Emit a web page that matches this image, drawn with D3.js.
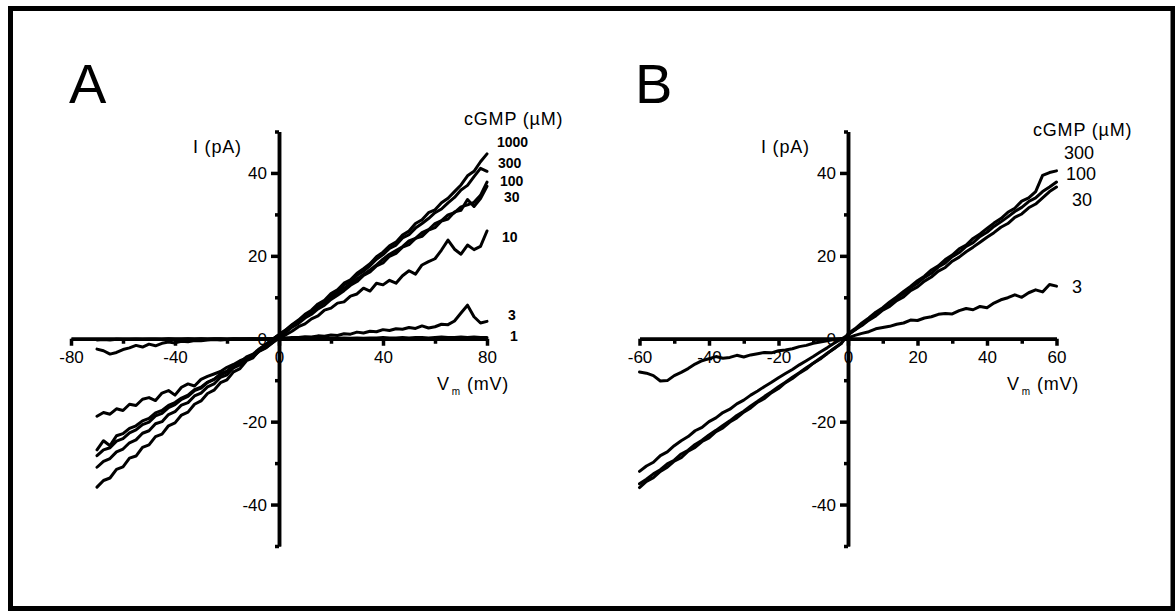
<!DOCTYPE html>
<html>
<head>
<meta charset="utf-8">
<script src="https://cdn.jsdelivr.net/npm/d3@7"></script>
<style>
  body { margin: 0; background: #fff; }
  text { font-family: "Liberation Sans", Arial, sans-serif; fill: #000; }
  .trace { fill: none; stroke: #000; stroke-width: 3; stroke-linejoin: round; stroke-linecap: round; }
  .axis path, .axis line { stroke: #000; stroke-width: 3.5; }
  .axis text { font-size: 17px; font-family: "Liberation Sans", Arial, sans-serif; }
  .lab { font-size: 18px; letter-spacing: 0.8px; }
  .conc { font-size: 14px; font-weight: bold; }
  .concB { font-size: 18px; }
</style>
</head>
<body>
<div id="chart"></div>
<script>
var width = 1175;
var height = 611;

// Panel A: voltage ramp from -70 to +80 mV, one sample every 2.5 mV
var vStartA = -70, vStepA = 2.5;
var concA = ["1000", "300", "100", "30", "10", "3", "1"];
var iA_1000 = [
  -35.8, -34.2, -33.6, -31.5, -30.9, -28.8, -28.3, -26.2, -25.6, -23.6,
  -23.0, -21.0, -20.3, -18.4, -17.7, -15.8, -15.0, -13.2, -12.4, -10.6,
  -9.9, -8.0, -7.2, -5.3, -4.6, -2.7, -1.8, -0.2, 1.0, 2.1,
  3.4, 4.5, 5.9, 6.9, 8.4, 9.3, 10.9, 11.8, 13.4, 14.2,
  15.8, 16.9, 18.1, 19.8, 20.9, 22.4, 23.3, 25.0, 26.0, 27.8,
  28.7, 30.4, 31.1, 32.8, 33.9, 35.5, 37.1, 39.3, 40.4, 42.7,
  44.6];
var iA_300 = [
  -31.0, -29.6, -28.9, -27.3, -26.6, -25.1, -24.4, -22.8, -22.2, -20.5,
  -20.0, -18.3, -17.6, -16.0, -15.4, -13.8, -13.1, -11.6, -10.9, -9.3,
  -8.7, -7.0, -6.3, -4.8, -4.1, -2.5, -1.4, -0.1, 1.0, 2.0,
  3.3, 4.3, 5.7, 6.6, 8.1, 9.0, 10.5, 11.4, 13.0, 13.8,
  15.3, 16.3, 17.6, 19.2, 20.3, 21.8, 22.6, 24.3, 25.1, 26.7,
  27.8, 29.0, 30.4, 31.3, 32.8, 34.1, 35.9, 37.0, 39.1, 41.1,
  40.4];
var iA_100 = [
  -28.2, -26.8, -26.3, -24.7, -24.1, -22.7, -22.0, -20.7, -20.1, -18.6,
  -18.0, -16.6, -15.9, -14.6, -13.9, -12.5, -11.9, -10.5, -9.8, -8.5,
  -7.8, -6.4, -5.7, -4.4, -3.7, -2.4, -1.3, -0.2, 0.9, 1.9,
  3.1, 4.1, 5.4, 6.4, 7.7, 8.7, 10.0, 10.9, 12.2, 13.2,
  14.4, 15.5, 16.6, 17.8, 19.2, 20.4, 21.3, 22.2, 23.6, 24.2,
  25.6, 26.3, 27.8, 28.5, 29.9, 30.4, 31.8, 32.3, 32.9, 34.6,
  37.8];
var iA_30 = [
  -26.8, -24.6, -25.8, -23.4, -22.9, -21.6, -21.0, -19.8, -19.2, -17.9,
  -17.3, -16.1, -15.4, -14.3, -13.6, -12.3, -11.7, -10.5, -9.8, -8.7,
  -8.0, -6.8, -6.2, -4.9, -4.3, -3.0, -2.2, -0.9, 0.6, 1.5,
  2.8, 3.7, 5.0, 5.9, 7.2, 8.1, 9.5, 10.5, 11.6, 12.9,
  13.8, 15.3, 16.1, 17.6, 18.3, 19.9, 20.6, 22.1, 22.7, 24.2,
  24.7, 26.2, 26.8, 28.4, 28.9, 30.6, 31.0, 33.6, 31.9, 33.8,
  36.8];
var iA_10 = [
  -18.7, -17.8, -18.2, -16.9, -17.3, -15.8, -16.1, -14.6, -14.2, -14.9,
  -13.1, -12.5, -13.6, -11.7, -10.9, -11.4, -9.8, -9.1, -8.5, -7.9,
  -6.9, -6.2, -5.3, -4.7, -3.9, -2.9, -2.1, -1.0, 0.1, 0.9,
  1.8, 2.9, 3.6, 4.8, 5.5, 6.9, 7.4, 8.6, 8.9, 10.3,
  10.8, 12.2, 11.5, 13.4, 13.0, 14.1, 13.4, 15.2, 16.4, 15.6,
  17.8, 18.6, 19.3, 21.4, 23.8, 21.6, 20.4, 22.6, 21.5, 22.3,
  26.0];
var iA_3 = [
  -2.5, -2.9, -3.7, -3.3, -2.6, -2.2, -1.6, -2.0, -1.3, -1.7,
  -1.1, -0.8, -1.0, -0.6, -0.7, -0.4, -0.5, -0.3, -0.2, -0.3,
  -0.2, -0.1, -0.2, -0.1, 0.0, -0.1, 0.0, 0.0, 0.1, 0.2,
  0.3, 0.3, 0.5, 0.4, 0.7, 0.6, 0.9, 0.8, 1.2, 1.1,
  1.6, 1.4, 1.8, 1.7, 2.2, 2.0, 2.4, 2.3, 2.7, 2.5,
  3.1, 2.6, 2.9, 3.5, 3.4, 4.3, 6.2, 8.1, 5.3, 3.8,
  4.2];
var iA_1 = [
  -0.3, -0.2, -0.3, -0.1, -0.2, -0.2, -0.1, -0.2, -0.1, -0.1,
  -0.2, 0.0, -0.1, -0.1, 0.0, -0.1, 0.0, -0.1, 0.0, 0.0,
  -0.1, 0.0, 0.0, 0.0, 0.0, 0.0, 0.0, 0.0, 0.0, 0.1,
  0.0, 0.1, 0.1, 0.0, 0.1, 0.2, 0.1, 0.1, 0.2, 0.1,
  0.2, 0.1, 0.2, 0.2, 0.3, 0.2, 0.2, 0.3, 0.2, 0.3,
  0.3, 0.2, 0.3, 0.4, 0.3, 0.3, 0.4, 0.3, 0.4, 0.3,
  0.3];

// Panel B: voltage ramp from -60 to +60 mV, one sample every 2 mV
var vStartB = -60, vStepB = 2;
var concB = ["300", "100", "30", "3"];
var iB_300 = [
  -35.9, -34.4, -33.5, -32.0, -31.0, -29.5, -28.7, -27.1, -26.2, -24.8,
  -23.9, -22.4, -21.5, -20.1, -19.1, -17.7, -16.7, -15.3, -14.4, -13.0,
  -12.0, -10.6, -9.6, -8.3, -7.3, -5.9, -4.9, -3.5, -2.4, -1.1,
  1.2, 2.4, 3.8, 5.0, 6.4, 7.5, 8.9, 10.1, 11.4, 12.6,
  14.0, 15.1, 16.6, 17.6, 19.1, 20.2, 21.7, 22.6, 24.2, 25.3,
  26.6, 27.9, 29.0, 30.5, 31.5, 33.2, 34.0, 35.5, 39.4, 40.1,
  40.5];
var iB_100 = [
  -35.0, -33.9, -32.6, -31.6, -30.2, -29.3, -27.8, -26.9, -25.5, -24.5,
  -23.2, -22.1, -20.9, -19.8, -18.5, -17.5, -16.2, -15.1, -13.9, -12.8,
  -11.6, -10.5, -9.3, -8.2, -7.0, -5.9, -4.7, -3.6, -2.3, -1.2,
  1.0, 2.1, 3.5, 4.6, 6.0, 7.2, 8.4, 9.8, 10.9, 12.3,
  13.4, 14.8, 15.8, 17.3, 18.3, 19.8, 20.8, 22.3, 23.2, 24.7,
  25.7, 27.1, 28.2, 29.4, 30.7, 31.7, 33.1, 34.0, 35.5, 36.6,
  37.8];
var iB_30 = [
  -32.0, -30.7, -29.8, -28.2, -27.3, -25.8, -24.6, -23.6, -22.2, -21.4,
  -20.0, -19.1, -17.8, -17.0, -15.7, -14.8, -13.6, -12.6, -11.5, -10.5,
  -9.4, -8.4, -7.4, -6.3, -5.3, -4.3, -3.2, -2.2, -1.1, -0.1,
  0.9, 2.2, 3.2, 4.5, 5.5, 6.9, 7.8, 9.2, 10.1, 11.6,
  12.5, 13.9, 14.9, 16.3, 17.2, 18.7, 19.7, 21.0, 22.1, 23.3,
  24.5, 25.6, 26.9, 27.8, 29.3, 30.1, 31.6, 32.5, 34.0, 35.5,
  36.6];
var iB_3 = [
  -8.0, -8.3, -8.9, -10.2, -10.1, -8.9, -8.1, -7.2, -6.1, -5.3,
  -4.8, -4.3, -4.7, -4.5, -4.0, -4.4, -3.9, -3.6, -3.3, -3.4,
  -2.9, -2.7, -2.4, -1.9, -1.6, -1.1, -0.8, -0.5, -0.2, 0.0,
  0.2, 0.8, 1.3, 1.7, 2.4, 2.7, 3.0, 3.5, 3.8, 4.5,
  4.4, 5.0, 5.3, 5.9, 6.1, 6.0, 6.8, 7.3, 7.0, 7.8,
  7.5, 8.6, 9.4, 9.9, 10.6, 10.0, 11.1, 11.8, 11.3, 13.1,
  12.7];

// Tick values
var yMajor = [-40, -20, 0, 20, 40];
var yMinor = [-50, -30, -10, 10, 30, 50];
var xMajorA = [-80, -40, 0, 40, 80];
var xMinorA = [-60, -20, 20, 60];
var xMajorB = [-60, -40, -20, 0, 20, 40, 60];
var xMinorB = [-50, -30, -10, 10, 30, 50];

var svg = d3.select("#chart").append("svg")
    .attr("width", width)
    .attr("height", height);

// Outer frame
svg.append("rect")
  .attr("x", 10.5).attr("y", 8.5)
  .attr("width", 1162.5).attr("height", 600)
  .attr("fill", "none").attr("stroke", "#000").attr("stroke-width", 5);

// Shared current scale
var y = d3.scaleLinear().domain([-50, 50]).range([546, 131.5]);

function drawPanel(x, xMajor, xMinor) {
  var g = svg.append("g");
  var x0 = x(0), y0 = y(0);

  // Minor ticks (no labels)
  g.append("g").attr("class", "axis")
    .attr("transform", "translate(0," + y0 + ")")
    .call(d3.axisBottom(x).tickValues(xMinor).tickSize(5).tickSizeOuter(0).tickFormat(""));
  g.append("g").attr("class", "axis")
    .attr("transform", "translate(" + x0 + ",0)")
    .call(d3.axisLeft(y).tickValues(yMinor).tickSize(4).tickSizeOuter(0).tickFormat(""));

  // Major ticks with labels
  g.append("g").attr("class", "axis")
    .attr("transform", "translate(0," + y0 + ")")
    .call(d3.axisBottom(x).tickValues(xMajor).tickSize(7).tickSizeOuter(0)
      .tickPadding(5).tickFormat(d => String(d)));
  g.append("g").attr("class", "axis")
    .attr("transform", "translate(" + x0 + ",0)")
    .call(d3.axisLeft(y).tickValues(yMajor).tickSize(8).tickSizeOuter(0)
      .tickPadding(4).tickFormat(d => String(d)));
  return g;
}

function drawTraces(g, x, vStart, vStep, series) {
  var line = d3.line()
    .x((d, i) => x(vStart + i * vStep))
    .y(d => y(d));
  g.selectAll("path.trace").data(series).enter()
    .append("path")
    .attr("class", "trace")
    .attr("d", line);
}

// Panel A
var xA = d3.scaleLinear().domain([-80, 80]).range([71, 487]);
var gA = drawPanel(xA, xMajorA, xMinorA);
drawTraces(gA, xA, vStartA, vStepA, [iA_1, iA_3, iA_10, iA_30, iA_100, iA_300, iA_1000]);

// Panel B
var xB = d3.scaleLinear().domain([-60, 60]).range([639.5, 1056.5]);
var gB = drawPanel(xB, xMajorB, xMinorB);
drawTraces(gB, xB, vStartB, vStepB, [iB_3, iB_30, iB_100, iB_300]);

// Panel letters
svg.append("text").attr("x", 69).attr("y", 103).attr("font-size", 56).text("A");
svg.append("text").attr("x", 635).attr("y", 103).attr("font-size", 56).text("B");

// Axis titles
function axisTitles(x0, xv, xc, yc) {
  svg.append("text").attr("class", "lab").attr("x", x0).attr("y", 153).text("I (pA)");
  var t = svg.append("text").attr("class", "lab").attr("x", xv).attr("y", 390);
  t.append("tspan").text("V");
  t.append("tspan").attr("font-size", 10).attr("dy", 5).attr("dx", 2).text("m");
  t.append("tspan").attr("dy", -5).attr("dx", 6).text("(mV)");
  svg.append("text").attr("class", "lab").attr("x", xc).attr("y", yc).text("cGMP (\u00b5M)");
}
axisTitles(193, 437, 464, 125);
axisTitles(761, 1007, 1033, 136);

// Concentration labels, panel A (bold)
var labXA = [497, 498, 500, 504, 502, 508, 510];
var labYA = [146.5, 168, 185.5, 202, 241.5, 320, 341];
svg.selectAll("text.conc").data(concA).enter()
  .append("text").attr("class", "conc")
  .attr("x", (d, i) => labXA[i]).attr("y", (d, i) => labYA[i])
  .text(d => d);

// Concentration labels, panel B
var labXB = [1064, 1066, 1072, 1072];
var labYB = [159, 179.5, 206, 293];
var labSB = [18, 16, 18, 18];
svg.selectAll("text.concB").data(concB).enter()
  .append("text").attr("class", "concB")
  .attr("x", (d, i) => labXB[i]).attr("y", (d, i) => labYB[i])
  .attr("font-size", (d, i) => labSB[i])
  .text(d => d);
</script>
</body>
</html>
